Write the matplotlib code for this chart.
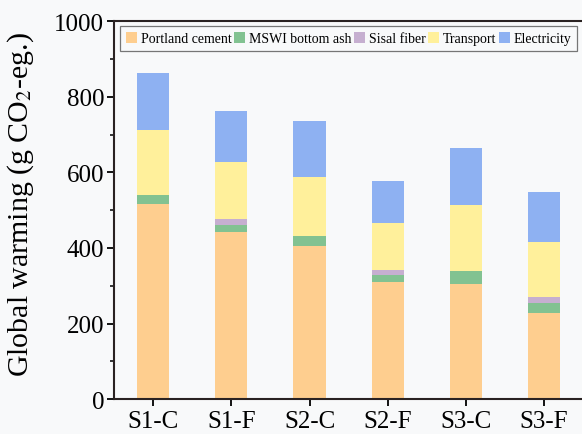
import numpy as np
import matplotlib.pyplot as plt
from matplotlib.ticker import MultipleLocator

plt.rcParams['font.family'] = ['Liberation Serif', 'DejaVu Serif']
plt.rcParams['mathtext.fontset'] = 'stix'

scenarios = ["S1-C", "S1-F", "S2-C", "S2-F", "S3-C", "S3-F"]

# emission contributions per scenario (g CO2-eq.)
portland_cement = [517, 442, 404, 309, 306, 228]
mswi_bottom_ash = [23, 20, 27, 20, 32, 27]
sisal_fiber = [0, 16, 0, 12, 0, 15]
transport = [171, 150, 156, 126, 177, 147]
electricity = [153, 135, 148, 111, 149, 131]

components = [
    ("Portland cement", portland_cement, "#FECE8F"),
    ("MSWI bottom ash", mswi_bottom_ash, "#82C291"),
    ("Sisal fiber", sisal_fiber, "#C6AFD0"),
    ("Transport", transport, "#FFF09B"),
    ("Electricity", electricity, "#8EB1F2"),
]

fig = plt.figure(figsize=(5.82, 4.35), dpi=100, facecolor="#f8f9fa")
ax = fig.add_axes([0.196, 0.080, 0.806, 0.869])
ax.set_facecolor("#f8f9fa")

x = np.arange(len(scenarios))
bottom = np.zeros(len(scenarios))
for name, vals, col in components:
    vals = np.array(vals, dtype=float)
    ax.bar(x, vals, width=0.41, bottom=bottom, color=col, label=name,
           edgecolor="none")
    bottom += vals

ax.set_xlim(-0.5, 5.5)
ax.set_ylim(0, 1000)
ax.set_xticks(x)
ax.set_xticklabels(scenarios, fontsize=18)
ax.yaxis.set_major_locator(MultipleLocator(200))
ax.yaxis.set_minor_locator(MultipleLocator(100))
ax.tick_params(axis="y", labelsize=18, width=1.3, length=5, direction="out", pad=2)
ax.tick_params(axis="y", which="minor", width=1.1, length=3)
ax.tick_params(axis="x", width=1.3, length=5, direction="out", pad=3)
for s in ["left", "bottom", "top"]:
    ax.spines[s].set_linewidth(1.5)
    ax.spines[s].set_color("#2a2222")
ax.spines["right"].set_visible(False)

ax.set_ylabel("Global warming (g CO$_2$-eg.)", fontsize=21.5)
ax.yaxis.set_label_coords(-0.166, 0.517)

leg = ax.legend(loc="upper left", ncol=5, fontsize=10, frameon=True,
                fancybox=False, edgecolor="#555555", handlelength=0.8,
                handleheight=0.9, handletextpad=0.25, columnspacing=0.2,
                borderpad=0.42, borderaxespad=0.0, bbox_to_anchor=(0.013, 0.987))
leg.get_frame().set_linewidth(0.9)
leg.get_frame().set_facecolor("#f8f9fa")

fig.savefig("out.png", dpi=100, facecolor=fig.get_facecolor())
